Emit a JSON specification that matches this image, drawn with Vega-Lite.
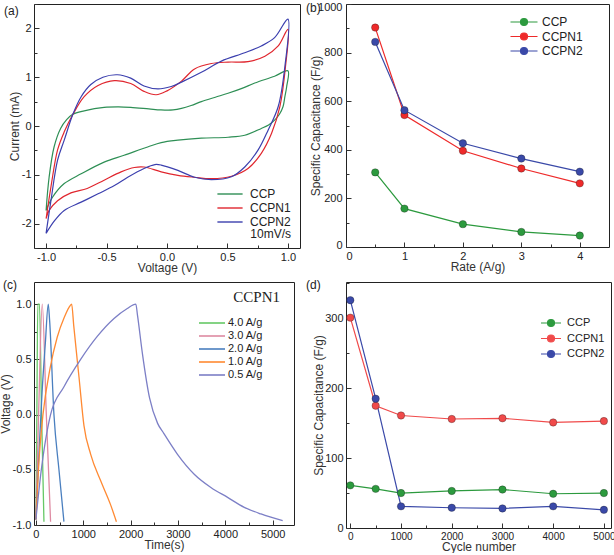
{
  "$schema": "https://vega.github.io/schema/vega-lite/v6.json",
  "padding": {"top": 0, "left": -2, "right": 0, "bottom": 0},
  "background": "white",
  "config": {
    "view": {"stroke": "#222", "strokeWidth": 1},
    "axis": {"grid": false, "domain": false, "labelFont": "Liberation Sans", "labelFontSize": 11, "labelColor": "#222", "titleFont": "Liberation Sans", "titleFontSize": 12, "titleFontWeight": "normal", "titleColor": "#333", "tickColor": "#333", "tickWidth": 1, "labelPadding": 8},
    "axisX": {"titlePadding": 0},
    "axisY": {"titlePadding": 1},
    "legend": {"labelFont": "Liberation Sans", "labelFontSize": 12, "labelColor": "#222", "titleFont": "Liberation Sans", "titleFontWeight": "normal", "titleColor": "#222"},
    "title": {"font": "Liberation Sans", "fontSize": 12, "fontWeight": "normal", "anchor": "start", "frame": "group", "offset": 0, "color": "#222", "baseline": "middle"}
  },
  "datasets": {
    "cv": [
      {"s":"CCP","o":1,"v":-1.0,"i":-1.73},{"s":"CCP","o":2,"v":-0.975,"i":-1.05},{"s":"CCP","o":3,"v":-0.934,"i":-0.43},{"s":"CCP","o":4,"v":-0.88,"i":-0.05},{"s":"CCP","o":5,"v":-0.83,"i":0.13},{"s":"CCP","o":6,"v":-0.78,"i":0.24},{"s":"CCP","o":7,"v":-0.685,"i":0.31},{"s":"CCP","o":8,"v":-0.52,"i":0.38},{"s":"CCP","o":9,"v":-0.4,"i":0.39},{"s":"CCP","o":10,"v":-0.3,"i":0.38},{"s":"CCP","o":11,"v":-0.15,"i":0.35},{"s":"CCP","o":12,"v":-0.05,"i":0.33},{"s":"CCP","o":13,"v":0.05,"i":0.33},{"s":"CCP","o":14,"v":0.12,"i":0.36},{"s":"CCP","o":15,"v":0.2,"i":0.42},{"s":"CCP","o":16,"v":0.284,"i":0.5},{"s":"CCP","o":17,"v":0.4,"i":0.59},{"s":"CCP","o":18,"v":0.505,"i":0.67},{"s":"CCP","o":19,"v":0.62,"i":0.77},{"s":"CCP","o":20,"v":0.726,"i":0.88},{"s":"CCP","o":21,"v":0.89,"i":1.02},{"s":"CCP","o":22,"v":1.0,"i":1.13},
      {"s":"CCP","o":23,"v":0.99,"i":0.81},{"s":"CCP","o":24,"v":0.975,"i":0.6},{"s":"CCP","o":25,"v":0.96,"i":0.4},{"s":"CCP","o":26,"v":0.93,"i":0.24},{"s":"CCP","o":27,"v":0.89,"i":0.12},{"s":"CCP","o":28,"v":0.84,"i":0.02},{"s":"CCP","o":29,"v":0.78,"i":-0.05},{"s":"CCP","o":30,"v":0.643,"i":-0.19},{"s":"CCP","o":31,"v":0.505,"i":-0.23},{"s":"CCP","o":32,"v":0.284,"i":-0.25},{"s":"CCP","o":33,"v":0.09,"i":-0.29},{"s":"CCP","o":34,"v":-0.048,"i":-0.34},{"s":"CCP","o":35,"v":-0.16,"i":-0.43},{"s":"CCP","o":36,"v":-0.355,"i":-0.6},{"s":"CCP","o":37,"v":-0.52,"i":-0.74},{"s":"CCP","o":38,"v":-0.71,"i":-0.98},{"s":"CCP","o":39,"v":-0.85,"i":-1.18},{"s":"CCP","o":40,"v":-0.947,"i":-1.46},{"s":"CCP","o":41,"v":-1.0,"i":-1.73},
      {"s":"CCPN1","o":1,"v":-1.0,"i":-1.9},{"s":"CCPN1","o":2,"v":-0.96,"i":-1.25},{"s":"CCPN1","o":3,"v":-0.905,"i":-0.49},{"s":"CCPN1","o":4,"v":-0.85,"i":-0.12},{"s":"CCPN1","o":5,"v":-0.78,"i":0.23},{"s":"CCPN1","o":6,"v":-0.685,"i":0.6},{"s":"CCPN1","o":7,"v":-0.57,"i":0.83},{"s":"CCPN1","o":8,"v":-0.435,"i":0.93},{"s":"CCPN1","o":9,"v":-0.3,"i":0.87},{"s":"CCPN1","o":10,"v":-0.19,"i":0.71},{"s":"CCPN1","o":11,"v":-0.09,"i":0.64},{"s":"CCPN1","o":12,"v":0.0,"i":0.72},{"s":"CCPN1","o":13,"v":0.12,"i":0.92},{"s":"CCPN1","o":14,"v":0.228,"i":1.17},{"s":"CCPN1","o":15,"v":0.367,"i":1.28},{"s":"CCPN1","o":16,"v":0.505,"i":1.31},{"s":"CCPN1","o":17,"v":0.67,"i":1.32},{"s":"CCPN1","o":18,"v":0.81,"i":1.43},{"s":"CCPN1","o":19,"v":0.92,"i":1.64},{"s":"CCPN1","o":20,"v":1.0,"i":1.98},
      {"s":"CCPN1","o":21,"v":0.98,"i":1.22},{"s":"CCPN1","o":22,"v":0.934,"i":0.4},{"s":"CCPN1","o":23,"v":0.865,"i":-0.15},{"s":"CCPN1","o":24,"v":0.78,"i":-0.56},{"s":"CCPN1","o":25,"v":0.67,"i":-0.87},{"s":"CCPN1","o":26,"v":0.533,"i":-1.03},{"s":"CCPN1","o":27,"v":0.367,"i":-1.08},{"s":"CCPN1","o":28,"v":0.228,"i":-1.05},{"s":"CCPN1","o":29,"v":0.09,"i":-1.01},{"s":"CCPN1","o":30,"v":-0.048,"i":-0.94},{"s":"CCPN1","o":31,"v":-0.19,"i":-0.84},{"s":"CCPN1","o":32,"v":-0.27,"i":-0.85},{"s":"CCPN1","o":33,"v":-0.38,"i":-0.94},{"s":"CCPN1","o":34,"v":-0.52,"i":-1.11},{"s":"CCPN1","o":35,"v":-0.66,"i":-1.28},{"s":"CCPN1","o":36,"v":-0.795,"i":-1.37},{"s":"CCPN1","o":37,"v":-0.905,"i":-1.53},{"s":"CCPN1","o":38,"v":-0.975,"i":-1.73},{"s":"CCPN1","o":39,"v":-1.0,"i":-1.9},
      {"s":"CCPN2","o":1,"v":-1.0,"i":-2.2},{"s":"CCPN2","o":2,"v":-0.96,"i":-1.53},{"s":"CCPN2","o":3,"v":-0.905,"i":-0.7},{"s":"CCPN2","o":4,"v":-0.85,"i":-0.29},{"s":"CCPN2","o":5,"v":-0.78,"i":0.23},{"s":"CCPN2","o":6,"v":-0.71,"i":0.6},{"s":"CCPN2","o":7,"v":-0.63,"i":0.85},{"s":"CCPN2","o":8,"v":-0.53,"i":1.0},{"s":"CCPN2","o":9,"v":-0.41,"i":1.05},{"s":"CCPN2","o":10,"v":-0.3,"i":0.98},{"s":"CCPN2","o":11,"v":-0.19,"i":0.82},{"s":"CCPN2","o":12,"v":-0.075,"i":0.76},{"s":"CCPN2","o":13,"v":0.035,"i":0.81},{"s":"CCPN2","o":14,"v":0.12,"i":0.9},{"s":"CCPN2","o":15,"v":0.284,"i":1.1},{"s":"CCPN2","o":16,"v":0.45,"i":1.33},{"s":"CCPN2","o":17,"v":0.643,"i":1.5},{"s":"CCPN2","o":18,"v":0.78,"i":1.64},{"s":"CCPN2","o":19,"v":0.89,"i":1.81},{"s":"CCPN2","o":20,"v":1.0,"i":2.19},
      {"s":"CCPN2","o":21,"v":0.975,"i":1.22},{"s":"CCPN2","o":22,"v":0.92,"i":0.4},{"s":"CCPN2","o":23,"v":0.837,"i":-0.08},{"s":"CCPN2","o":24,"v":0.754,"i":-0.49},{"s":"CCPN2","o":25,"v":0.643,"i":-0.84},{"s":"CCPN2","o":26,"v":0.533,"i":-1.04},{"s":"CCPN2","o":27,"v":0.367,"i":-1.1},{"s":"CCPN2","o":28,"v":0.228,"i":-1.05},{"s":"CCPN2","o":29,"v":0.09,"i":-0.91},{"s":"CCPN2","o":30,"v":-0.048,"i":-0.8},{"s":"CCPN2","o":31,"v":-0.1,"i":-0.79},{"s":"CCPN2","o":32,"v":-0.19,"i":-0.87},{"s":"CCPN2","o":33,"v":-0.325,"i":-1.05},{"s":"CCPN2","o":34,"v":-0.435,"i":-1.22},{"s":"CCPN2","o":35,"v":-0.57,"i":-1.39},{"s":"CCPN2","o":36,"v":-0.71,"i":-1.56},{"s":"CCPN2","o":37,"v":-0.85,"i":-1.73},{"s":"CCPN2","o":38,"v":-0.93,"i":-1.94},{"s":"CCPN2","o":39,"v":-1.0,"i":-2.2}
    ],
    "rate": [
      {"s":"CCP","r":0.5,"c":307},{"s":"CCP","r":1,"c":158},{"s":"CCP","r":2,"c":94},{"s":"CCP","r":3,"c":62},{"s":"CCP","r":4,"c":47},
      {"s":"CCPN1","r":0.5,"c":903},{"s":"CCPN1","r":1,"c":543},{"s":"CCPN1","r":2,"c":396},{"s":"CCPN1","r":3,"c":323},{"s":"CCPN1","r":4,"c":262},
      {"s":"CCPN2","r":0.5,"c":844},{"s":"CCPN2","r":1,"c":563},{"s":"CCPN2","r":2,"c":427},{"s":"CCPN2","r":3,"c":364},{"s":"CCPN2","r":4,"c":310}
    ],
    "gcd": [
      {"g":"4.0 A/g","o":1,"t":0,"v":-0.95},{"g":"4.0 A/g","o":2,"t":20,"v":0.0},{"g":"4.0 A/g","o":3,"t":40,"v":1.0},{"g":"4.0 A/g","o":4,"t":75,"v":1.0},{"g":"4.0 A/g","o":5,"t":120,"v":0.0},{"g":"4.0 A/g","o":6,"t":170,"v":-0.97},
      {"g":"3.0 A/g","o":1,"t":0,"v":-0.95},{"g":"3.0 A/g","o":2,"t":60,"v":0.05},{"g":"3.0 A/g","o":3,"t":134,"v":1.0},{"g":"3.0 A/g","o":4,"t":220,"v":0.0},{"g":"3.0 A/g","o":5,"t":310,"v":-0.97},
      {"g":"2.0 A/g","o":1,"t":0,"v":-0.95},{"g":"2.0 A/g","o":2,"t":60,"v":-0.4},{"g":"2.0 A/g","o":3,"t":130,"v":0.2},{"g":"2.0 A/g","o":4,"t":200,"v":0.65},{"g":"2.0 A/g","o":5,"t":261,"v":1.0},{"g":"2.0 A/g","o":6,"t":290,"v":0.85},{"g":"2.0 A/g","o":7,"t":381,"v":0.0},{"g":"2.0 A/g","o":8,"t":487,"v":-0.5},{"g":"2.0 A/g","o":9,"t":592,"v":-0.97},
      {"g":"1.0 A/g","o":1,"t":0,"v":-0.95},{"g":"1.0 A/g","o":2,"t":60,"v":-0.45},{"g":"1.0 A/g","o":3,"t":150,"v":0.0},{"g":"1.0 A/g","o":4,"t":300,"v":0.42},{"g":"1.0 A/g","o":5,"t":450,"v":0.7},{"g":"1.0 A/g","o":6,"t":600,"v":0.88},{"g":"1.0 A/g","o":7,"t":700,"v":0.97},{"g":"1.0 A/g","o":8,"t":755,"v":1.0},{"g":"1.0 A/g","o":9,"t":800,"v":0.8},{"g":"1.0 A/g","o":10,"t":910,"v":0.34},{"g":"1.0 A/g","o":11,"t":1015,"v":-0.1},{"g":"1.0 A/g","o":12,"t":1157,"v":-0.36},{"g":"1.0 A/g","o":13,"t":1368,"v":-0.6},{"g":"1.0 A/g","o":14,"t":1580,"v":-0.82},{"g":"1.0 A/g","o":15,"t":1700,"v":-0.97},
      {"g":"0.5 A/g","o":1,"t":0,"v":-0.95},{"g":"0.5 A/g","o":2,"t":100,"v":-0.55},{"g":"0.5 A/g","o":3,"t":310,"v":0.0},{"g":"0.5 A/g","o":4,"t":590,"v":0.25},{"g":"0.5 A/g","o":5,"t":945,"v":0.5},{"g":"0.5 A/g","o":6,"t":1300,"v":0.71},{"g":"0.5 A/g","o":7,"t":1650,"v":0.87},{"g":"0.5 A/g","o":8,"t":1930,"v":0.96},{"g":"0.5 A/g","o":9,"t":2110,"v":1.0},{"g":"0.5 A/g","o":10,"t":2145,"v":0.9},{"g":"0.5 A/g","o":11,"t":2250,"v":0.55},{"g":"0.5 A/g","o":12,"t":2400,"v":0.15},{"g":"0.5 A/g","o":13,"t":2570,"v":-0.08},{"g":"0.5 A/g","o":14,"t":2700,"v":-0.17},{"g":"0.5 A/g","o":15,"t":2990,"v":-0.36},{"g":"0.5 A/g","o":16,"t":3343,"v":-0.54},{"g":"0.5 A/g","o":17,"t":3695,"v":-0.66},{"g":"0.5 A/g","o":18,"t":4048,"v":-0.75},{"g":"0.5 A/g","o":19,"t":4400,"v":-0.84},{"g":"0.5 A/g","o":20,"t":4753,"v":-0.9},{"g":"0.5 A/g","o":21,"t":5211,"v":-0.96}
    ],
    "cyc": [
      {"s":"CCP","n":0,"c":61},{"s":"CCP","n":500,"c":56},{"s":"CCP","n":1000,"c":50},{"s":"CCP","n":2000,"c":53},{"s":"CCP","n":3000,"c":55},{"s":"CCP","n":4000,"c":49},{"s":"CCP","n":5000,"c":50},
      {"s":"CCPN1","n":0,"c":301},{"s":"CCPN1","n":500,"c":175},{"s":"CCPN1","n":1000,"c":161},{"s":"CCPN1","n":2000,"c":156},{"s":"CCPN1","n":3000,"c":157},{"s":"CCPN1","n":4000,"c":151},{"s":"CCPN1","n":5000,"c":153},
      {"s":"CCPN2","n":0,"c":326},{"s":"CCPN2","n":500,"c":185},{"s":"CCPN2","n":1000,"c":31},{"s":"CCPN2","n":2000,"c":29},{"s":"CCPN2","n":3000,"c":28},{"s":"CCPN2","n":4000,"c":31},{"s":"CCPN2","n":5000,"c":26}
    ],
    "note": [{"label": "CCPN1"}]
  },
  "columns": 2,
  "bounds": "flush",
  "spacing": {"row": 34, "column": 46},
  "resolve": {"scale": {"color": "independent"}, "legend": {"color": "independent"}},
  "concat": [
        {
          "width": 266, "height": 244,
          "title": {"text": "(a)", "dx": -30, "dy": 18},
          "data": {"name": "cv"},
          "mark": {"type": "line", "strokeWidth": 1.2, "interpolate": "catmull-rom"},
          "encoding": {
            "x": {"field": "v", "type": "quantitative", "scale": {"domain": [-1.1, 1.1], "nice": false, "zero": false},
              "axis": {"title": "Voltage (V)", "values": [-1, -0.75, -0.5, -0.25, 0, 0.25, 0.5, 0.75, 1],
                "labelExpr": "abs(datum.value*2-round(datum.value*2))<0.001 ? replace(format(datum.value,'.1f'),'\u2212','-') : ''",
                "tickSize": {"condition": {"test": "abs(datum.value*2-round(datum.value*2))<0.001", "value": -5}, "value": -3}}},
            "y": {"field": "i", "type": "quantitative", "scale": {"domain": [-2.5, 2.5], "nice": false, "zero": false},
              "axis": {"title": "Current (mA)", "titlePadding": 0, "values": [-2.5, -2, -1.5, -1, -0.5, 0, 0.5, 1, 1.5, 2, 2.5],
                "labelExpr": "abs(datum.value-round(datum.value))<0.001 ? replace(format(datum.value,'d'),'\u2212','-') : ''",
                "tickSize": {"condition": {"test": "abs(datum.value-round(datum.value))<0.001", "value": -5}, "value": -3}}},
            "color": {"field": "s", "type": "nominal", "scale": {"domain": ["CCP", "CCPN1", "CCPN2"], "range": ["#2e8f55", "#e0262e", "#3b3fae"]},
              "legend": {"orient": "none", "legendX": 188, "legendY": 182, "title": "10mV/s", "titleOrient": "bottom", "titleAnchor": "end", "titleFontSize": 12, "titlePadding": 1, "symbolType": "M-1.8,0H1.8", "symbolSize": 196, "symbolStrokeWidth": 1.4, "labelOffset": 12, "rowPadding": 0}},
            "order": {"field": "o", "type": "quantitative"}
          }
        },
        {
          "width": 263, "height": 243,
          "title": {"text": "(b)", "dx": -40, "dy": 18},
          "data": {"name": "rate"},
          "encoding": {
            "x": {"field": "r", "type": "quantitative", "scale": {"domain": [0, 4.5], "nice": false, "zero": false},
              "axis": {"title": "Rate (A/g)", "values": [0, 0.5, 1, 1.5, 2, 2.5, 3, 3.5, 4],
                "labelExpr": "datum.value % 1 == 0 ? format(datum.value,'d') : ''",
                "tickSize": {"condition": {"test": "datum.value % 1 == 0", "value": -5}, "value": -3}}},
            "y": {"field": "c", "type": "quantitative", "scale": {"domain": [0, 1000], "nice": false, "zero": false},
              "axis": {"title": "Specific Capacitance (F/g)", "titlePadding": -5, "labelPadding": 9, "labelFlush": true, "labelFlushOffset": 3, "values": [0, 100, 200, 300, 400, 500, 600, 700, 800, 900, 1000],
                "labelExpr": "datum.value % 200 == 0 ? format(datum.value,'d') : ''",
                "tickSize": {"condition": {"test": "datum.value % 200 == 0", "value": -5}, "value": -3}}},
            "color": {"field": "s", "type": "nominal", "scale": {"domain": ["CCP", "CCPN1", "CCPN2"], "range": ["#2c9a3e", "#ee2a2a", "#3a49a8"]},
              "legend": {"orient": "none", "legendX": 170, "legendY": 10, "title": null, "symbolType": "M-1.93,0H1.93M0.5,0A0.5,0.5 0 1,1 -0.5,0A0.5,0.5 0 1,1 0.5,0Z", "symbolSize": 196, "symbolStrokeWidth": 1.2, "labelOffset": 10, "rowPadding": 0.5}}
          },
          "layer": [
            {"mark": {"type": "line", "strokeWidth": 1.2}},
            {"mark": {"type": "point", "filled": true, "size": 55, "opacity": 1, "stroke": "#111", "strokeWidth": 0.6, "strokeOpacity": 0.5}}
          ]
        },
        {
          "width": 260, "height": 243,
          "title": {"text": "(c)", "dx": -31, "dy": 14},
          "encoding": {
            "x": {"type": "quantitative", "scale": {"domain": [-40, 5450], "nice": false, "zero": false},
              "axis": {"title": "Time(s)", "values": [0, 500, 1000, 1500, 2000, 2500, 3000, 3500, 4000, 4500, 5000],
                "labelExpr": "datum.value % 1000 == 0 ? format(datum.value,'d') : ''",
                "tickSize": {"condition": {"test": "datum.value % 1000 == 0", "value": -5}, "value": -3}}},
            "y": {"type": "quantitative", "scale": {"domain": [-1, 1.2], "nice": false, "zero": false},
              "axis": {"title": "Voltage (V)", "titlePadding": 0, "values": [-1, -0.75, -0.5, -0.25, 0, 0.25, 0.5, 0.75, 1],
                "labelExpr": "abs(datum.value*2-round(datum.value*2))<0.001 ? replace(format(datum.value,'.1f'),'\u2212','-') : ''",
                "tickSize": {"condition": {"test": "abs(datum.value*2-round(datum.value*2))<0.001", "value": -5}, "value": -3}}}
          },
          "layer": [
            {
              "data": {"name": "gcd"},
              "mark": {"type": "line", "strokeWidth": 1.3, "interpolate": "monotone"},
              "encoding": {
                "x": {"field": "t", "type": "quantitative"},
                "y": {"field": "v", "type": "quantitative"},
                "color": {"field": "g", "type": "nominal", "scale": {"domain": ["4.0 A/g", "3.0 A/g", "2.0 A/g", "1.0 A/g", "0.5 A/g"], "range": ["#66c866", "#de8aa2", "#4a7fbf", "#ff8a33", "#7c7fc6"]},
                  "legend": {"orient": "none", "legendX": 170, "legendY": 33, "title": null, "labelFontSize": 11, "symbolType": "M-1.86,0H1.86", "symbolSize": 196, "symbolStrokeWidth": 1.6, "labelOffset": 8, "rowPadding": 0}},
                "order": {"field": "o", "type": "quantitative"}
              }
            },
            {
              "data": {"name": "note"},
              "mark": {"type": "text", "font": "Liberation Serif", "fontSize": 15, "align": "right", "baseline": "middle", "color": "#222"},
              "encoding": {"x": {"datum": 5154}, "y": {"datum": 1.06}, "text": {"field": "label"}}
            }
          ]
        },
        {
          "width": 265, "height": 246,
          "title": {"text": "(d)", "dx": -40, "dy": 14},
          "data": {"name": "cyc"},
          "encoding": {
            "x": {"field": "n", "type": "quantitative", "scale": {"domain": [-85, 5140], "nice": false, "zero": false},
              "axis": {"title": "Cycle number", "labelFontSize": 10, "values": [0, 500, 1000, 1500, 2000, 2500, 3000, 3500, 4000, 4500, 5000],
                "labelExpr": "datum.value % 1000 == 0 ? format(datum.value,'d') : ''",
                "tickSize": {"condition": {"test": "datum.value % 1000 == 0", "value": -5}, "value": -3}}},
            "y": {"field": "c", "type": "quantitative", "scale": {"domain": [0, 352], "nice": false, "zero": false},
              "axis": {"title": "Specific Capacitance (F/g)", "titlePadding": -1, "values": [0, 50, 100, 150, 200, 250, 300, 350],
                "labelExpr": "datum.value % 100 == 0 ? format(datum.value,'d') : ''",
                "tickSize": {"condition": {"test": "datum.value % 100 == 0", "value": -5}, "value": -3}}},
            "color": {"field": "s", "type": "nominal", "scale": {"domain": ["CCP", "CCPN1", "CCPN2"], "range": ["#2c9a3e", "#f04a4a", "#3a49a8"]},
              "legend": {"orient": "none", "legendX": 197, "legendY": 33, "title": null, "labelFontSize": 11, "symbolType": "M-1.43,0H1.43M0.5,0A0.5,0.5 0 1,1 -0.5,0A0.5,0.5 0 1,1 0.5,0Z", "symbolSize": 196, "symbolStrokeWidth": 1.2, "labelOffset": 8, "rowPadding": 1.5}}
          },
          "layer": [
            {"mark": {"type": "line", "strokeWidth": 1.2}},
            {"mark": {"type": "point", "filled": true, "size": 55, "opacity": 1, "stroke": "#111", "strokeWidth": 0.6, "strokeOpacity": 0.5}}
          ]
        }
  ]
}
